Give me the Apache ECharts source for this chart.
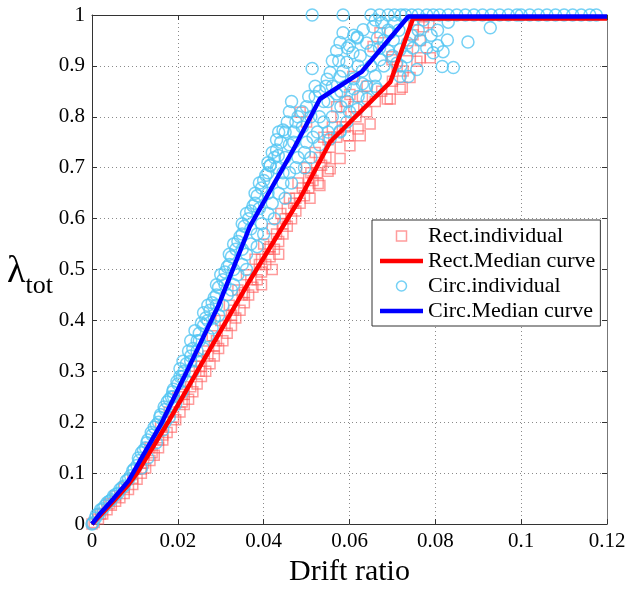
<!DOCTYPE html>
<html>
<head>
<meta charset="utf-8">
<script src="https://cdn.jsdelivr.net/npm/echarts@6/dist/echarts.min.js"></script>
<style>html,body{margin:0;padding:0;background:#fff;}#c{width:629px;height:592px;}</style>
</head>
<body>
<div id="c"></div>
<script>
// ---- data ----
const xTicks = [0, 0.02, 0.04, 0.06, 0.08, 0.1, 0.12];
const yTicks = [0, 0.1, 0.2, 0.3, 0.4, 0.5, 0.6, 0.7, 0.8, 0.9, 1];
const seriesNames = ['Rect.individual', 'Rect.Median curve', 'Circ.individual', 'Circ.Median curve'];

const rectMedian = [[0,0],[0.002,0.018],[0.005,0.045],[0.0085,0.078],[0.0105,0.1],[0.0177,0.2],[0.0245,0.3],[0.0368,0.479],[0.0485,0.64],[0.0555,0.751],[0.0695,0.868],[0.0748,0.993],[0.12,0.993]];
const circMedian = [[0,0],[0.002,0.022],[0.005,0.05],[0.0085,0.085],[0.0163,0.2],[0.0221,0.3],[0.0295,0.43],[0.0368,0.585],[0.047,0.737],[0.0531,0.835],[0.0629,0.889],[0.0737,0.997],[0.12,0.997]];

const rectPoints = [
[0,0],[0.0005,0.003],[0.0015,0.01],[0.0025,0.02],[0.0035,0.028],[0.0045,0.037],[0.0055,0.045],[0.0065,0.052],[0.0075,0.06],[0.0085,0.068],[0.0095,0.078],[0.0105,0.088],[0.0115,0.1],[0.0125,0.11],[0.0135,0.125],[0.0145,0.135],[0.0155,0.15],[0.0165,0.165],[0.0175,0.18],[0.0185,0.19],[0.0195,0.205],[0.0205,0.22],[0.0215,0.235],[0.0225,0.245],[0.0235,0.26],[0.0245,0.275],[0.0255,0.29],[0.0265,0.3],[0.0275,0.315],[0.0285,0.33],[0.0295,0.345],[0.0305,0.36],[0.0315,0.375],[0.0325,0.39],[0.0335,0.405],[0.0345,0.42],[0.0355,0.435],[0.0365,0.45],[0.0375,0.465],[0.0385,0.48],[0.0395,0.495],[0.0405,0.51],[0.0415,0.525],[0.0425,0.54],[0.0435,0.555],[0.0445,0.57],[0.0455,0.585],[0.0465,0.6],[0.0475,0.615],[0.0485,0.63],[0.0495,0.645],[0.0508,0.64],[0.0505,0.66],[0.0515,0.675],[0.0531,0.665],[0.0527,0.669],[0.0525,0.69],[0.055,0.693],[0.0555,0.698],[0.0535,0.705],[0.0545,0.72],[0.0578,0.718],[0.0555,0.74],[0.0601,0.743],[0.0597,0.763],[0.0625,0.763],[0.062,0.776],[0.0648,0.786],[0.0688,0.835],[0.0695,0.835],[0.0601,0.844],[0.0641,0.86],[0.0718,0.854],[0.0723,0.858],[0.0608,0.879],[0.0741,0.877],[0.0711,0.899],[0.0757,0.909],[0.0699,0.912],[0.0699,0.918],[0.0765,0.916],[0.0788,0.916],[0.0655,0.938],[0.0748,0.961],[0.0671,0.965],[0.0772,0.977],[0.0485,0.809],
[0.016,0.19],[0.018,0.22],[0.02,0.25],[0.022,0.28],[0.024,0.31],[0.026,0.34],[0.028,0.37],[0.03,0.4],[0.032,0.43],[0.034,0.46],[0.036,0.49],[0.038,0.52],[0.04,0.55],[0.042,0.58],[0.044,0.61],[0.046,0.64],[0.048,0.67],[0.05,0.7],[0.052,0.73],[0.054,0.76],[0.056,0.78],[0.058,0.8],[0.057,0.82],[0.059,0.83],[0.061,0.82],[0.063,0.84],[0.05,0.79],
[0.0165,0.175],[0.019,0.21],[0.021,0.24],[0.023,0.27],[0.025,0.3],[0.027,0.33],[0.029,0.36],[0.031,0.39],[0.033,0.42],[0.035,0.45],[0.037,0.48],[0.039,0.51],[0.041,0.54],[0.043,0.57],[0.045,0.6],[0.047,0.63],[0.049,0.66],[0.051,0.69],[0.053,0.72],[0.055,0.755],[0.057,0.76],[0.059,0.78],[0.0615,0.8],[0.064,0.81],[0.066,0.83],[0.0675,0.85],[0.07,0.87],[0.0725,0.89],[0.0735,0.93],[0.0765,0.95],[0.0785,0.985],[0.075,0.99],
[0.0215,0.255],[0.0255,0.31],[0.0285,0.35],[0.0325,0.41],[0.0355,0.455],[0.0395,0.52],[0.0415,0.545],[0.0445,0.59],[0.0475,0.64],[0.0505,0.68],[0.0455,0.62],[0.0395,0.47],[0.042,0.5],[0.0435,0.53],
[0.012,0.12],[0.014,0.14],[0.0135,0.15],[0.0155,0.165],[0.0115,0.108],[0.0095,0.09],[0.0075,0.072],[0.0055,0.055],[0.004,0.04],[0.002,0.02]
];

const circPoints = [
[0,0],[0.0002,0.002],[0.0008,0.012],[0.0015,0.02],[0.002,0.028],[0.003,0.036],[0.0035,0.042],[0.0045,0.048],[0.005,0.055],[0.006,0.06],[0.0065,0.068],[0.0075,0.075],[0.008,0.085],[0.009,0.095],[0.0095,0.105],[0.0105,0.115],[0.011,0.125],[0.0115,0.14],[0.0125,0.15],[0.013,0.165],[0.014,0.175],[0.0145,0.19],[0.0155,0.2],[0.016,0.215],[0.017,0.225],[0.0175,0.24],[0.0185,0.25],[0.019,0.265],[0.02,0.275],[0.0205,0.29],[0.0215,0.3],[0.022,0.315],[0.023,0.33],[0.0235,0.345],[0.0245,0.36],[0.025,0.375],[0.026,0.39],[0.0265,0.405],[0.0275,0.42],[0.028,0.435],[0.029,0.45],[0.0295,0.465],[0.0305,0.48],[0.031,0.495],[0.032,0.51],[0.0325,0.525],[0.0335,0.54],[0.034,0.555],[0.035,0.57],[0.0355,0.585],[0.0365,0.6],[0.037,0.615],[0.038,0.63],[0.0385,0.645],[0.0395,0.66],[0.04,0.675],[0.041,0.69],[0.0415,0.705],[0.0425,0.72],[0.043,0.735],[0.044,0.75],[0.0445,0.774],[0.0455,0.79],[0.046,0.81],
[0.0115,0.11],[0.013,0.13],[0.015,0.16],[0.0165,0.185],[0.018,0.21],[0.0195,0.235],[0.021,0.26],[0.022,0.28],[0.0235,0.3],[0.0245,0.32],[0.026,0.345],[0.027,0.37],[0.028,0.385],[0.0295,0.41],[0.0305,0.43],[0.0315,0.45],[0.033,0.47],[0.034,0.49],[0.035,0.51],[0.036,0.53],[0.037,0.55],[0.0385,0.57],[0.0395,0.59],[0.041,0.61],[0.042,0.63],[0.0435,0.65],[0.0445,0.67],[0.046,0.69],[0.0475,0.7],[0.048,0.72],[0.0495,0.73],[0.05,0.75],[0.0515,0.76],[0.0525,0.77],[0.0555,0.757],[0.0578,0.77],[0.054,0.79],[0.056,0.8],
[0.017,0.2],[0.019,0.25],[0.021,0.29],[0.023,0.32],[0.025,0.36],[0.027,0.4],[0.029,0.43],[0.031,0.47],[0.033,0.5],[0.035,0.54],[0.037,0.58],[0.039,0.62],[0.041,0.65],[0.043,0.7],[0.045,0.72],[0.047,0.75],[0.049,0.78],[0.048,0.8],[0.05,0.82],[0.052,0.84],[0.0434,0.724],[0.0415,0.704],[0.0445,0.69],
[0.0513,0.895],[0.0548,0.874],[0.0555,0.887],[0.0578,0.879],[0.0594,0.907],[0.0608,0.926],[0.0618,0.957],[0.0632,0.971],[0.0655,0.977],[0.0671,0.912],[0.0702,0.951],[0.0718,0.932],[0.0734,0.918],[0.0737,0.879],[0.0757,0.893],[0.0765,0.951],[0.0772,0.99],[0.0795,0.926],[0.0816,0.899],[0.0818,0.928],[0.0828,0.951],[0.0842,0.897],[0.083,0.986],[0.0876,0.947],[0.0928,0.975],[0.0585,0.965],
[0.053,0.85],[0.055,0.83],[0.057,0.845],[0.059,0.86],[0.061,0.875],[0.063,0.89],[0.058,0.82],[0.06,0.81],[0.062,0.84],[0.064,0.86],[0.066,0.88],[0.065,0.93],[0.068,0.95],[0.069,0.97],[0.0705,0.985],[0.0715,0.97],[0.057,0.93],[0.056,0.91],[0.06,0.94],[0.062,0.9],[0.064,0.945],[0.067,0.935],[0.07,0.92],[0.072,0.9],[0.0748,0.935],[0.076,0.97],[0.079,0.96],[0.0805,0.94],
[0.066,0.86],[0.0664,0.854],[0.0718,0.879],[0.0641,0.835],[0.0618,0.815],[0.0594,0.79],[0.0578,0.772],[0.0578,0.946],[0.0618,0.955],
[0.001,0.018],[0.0025,0.03],[0.004,0.045],[0.0055,0.058],[0.007,0.072],[0.0085,0.088],[0.0098,0.108],[0.0108,0.13],[0.012,0.145],[0.0128,0.16],[0.0138,0.18],[0.015,0.195],[0.0158,0.21],[0.0168,0.23],[0.018,0.245],[0.0188,0.26],[0.0198,0.28],[0.0205,0.305],[0.0212,0.32],[0.0225,0.34],[0.023,0.36],[0.024,0.38],[0.0255,0.395],[0.026,0.415],[0.027,0.43],[0.0285,0.445],[0.029,0.47],[0.03,0.49],[0.0315,0.505],[0.032,0.53],[0.033,0.55],[0.0345,0.565],[0.035,0.59],[0.036,0.61],[0.0375,0.625],[0.038,0.65],[0.039,0.67],[0.0405,0.685],[0.041,0.71],[0.042,0.73],[0.043,0.755],[0.0435,0.77],[0.045,0.77],[0.046,0.745],[0.047,0.77],[0.0475,0.79],[0.0465,0.83],[0.049,0.81],[0.051,0.8],[0.0505,0.84],[0.052,0.86],[0.053,0.8],[0.054,0.83],[0.0545,0.86],[0.056,0.86],[0.058,0.85],[0.0595,0.83],[0.061,0.855],[0.063,0.865],[0.065,0.9],[0.0625,0.92],[0.0585,0.89],[0.0575,0.91],[0.0595,0.935],[0.061,0.96],[0.0665,0.955],[0.069,0.93],[0.071,0.905],[0.068,0.9],[0.0735,0.945],[0.0745,0.96],[0.078,0.935],[0.0805,0.97],[0.0695,0.965],[0.066,0.99],[0.0675,0.985],
[0.0245,0.34],[0.0285,0.405],[0.0325,0.46],[0.036,0.5],[0.0385,0.545],[0.04,0.57],[0.0425,0.6],[0.045,0.64],[0.0465,0.67],[0.0495,0.7],[0.051,0.72],[0.053,0.745],[0.055,0.77],
[0.0513,1],[0.0585,1],[0.065,1],[0.067,1],[0.069,1],[0.0705,1],[0.072,1],[0.073,1],[0.0745,1],[0.076,1],[0.078,1],[0.0795,1],[0.081,1],[0.083,1],[0.085,1],[0.087,1],[0.089,1],[0.091,1],[0.093,1],[0.095,1],[0.097,1],[0.099,1],[0.1,1],[0.102,1],[0.104,1],[0.106,1],[0.108,1],[0.11,1],[0.112,1],[0.114,1],[0.116,1],[0.1175,1]
];

// ---- chart ----
const FONT = 'Liberation Serif';
const rectColor = 'rgba(255,90,90,0.75)';
const circColor = '#52c5f2';
const gridLine = { show: true, lineStyle: { color: '#8a8a8a', type: [1, 3], width: 1 } };
const axisLine = { show: true, onZero: false, lineStyle: { color: '#333', width: 1 } };
const fmt = v => String(+v.toFixed(4));

const chart = echarts.init(document.getElementById('c'), null, { renderer: 'canvas' });
chart.setOption({
  backgroundColor: '#fff',
  animation: false,
  grid: { left: 92, right: 22, top: 15, bottom: 63 },
  xAxis: [{
    type: 'value', min: xTicks[0], max: xTicks[xTicks.length - 1], interval: 0.02,
    name: 'Drift ratio', nameLocation: 'middle', nameGap: 32,
    nameTextStyle: { fontFamily: FONT, fontSize: 30, color: '#000', verticalAlign: 'top' },
    axisLine: axisLine, axisTick: { inside: true, length: 5, lineStyle: { color: '#333' } },
    axisLabel: { fontFamily: FONT, fontSize: 21, color: '#000', margin: 7, formatter: fmt },
    splitLine: gridLine
  }, {
    type: 'value', position: 'top', min: xTicks[0], max: xTicks[xTicks.length - 1], interval: 0.02,
    axisLine: axisLine, axisTick: { inside: true, length: 5, lineStyle: { color: '#333' } },
    axisLabel: { show: false }, splitLine: { show: false }
  }],
  yAxis: [{
    type: 'value', min: yTicks[0], max: yTicks[yTicks.length - 1], interval: 0.1,
    name: '{l|λ}{s|tot}', nameLocation: 'middle', nameRotate: 0, nameGap: 26,
    nameTextStyle: {
      align: 'right',
      rich: {
        l: { fontFamily: FONT, fontSize: 38, color: '#000', verticalAlign: 'bottom', lineHeight: 42 },
        s: { fontFamily: FONT, fontSize: 26, color: '#000', verticalAlign: 'bottom', padding: [0, 0, -9, 0] }
      }
    },
    axisLine: axisLine, axisTick: { inside: true, length: 5, lineStyle: { color: '#333' } },
    axisLabel: { fontFamily: FONT, fontSize: 21, color: '#000', margin: 7, formatter: fmt },
    splitLine: gridLine
  }, {
    type: 'value', position: 'right', min: yTicks[0], max: yTicks[yTicks.length - 1], interval: 0.1,
    axisLine: { show: true, onZero: false, lineStyle: { color: '#777', width: 1 } },
    axisTick: { inside: true, length: 5, lineStyle: { color: '#333' } },
    axisLabel: { show: false }, splitLine: { show: false }
  }],
  legend: {
    orient: 'vertical', left: 372, top: 220,
    padding: [5, 5, 4, 8], itemGap: 3, itemWidth: 43, itemHeight: 10,
    backgroundColor: '#fff', borderColor: '#333', borderWidth: 1, borderRadius: 0,
    textStyle: { fontFamily: FONT, fontSize: 22, color: '#000', lineHeight: 22 },
    data: [
      { name: seriesNames[0], icon: 'path://M0,0H10V10H0Z', itemStyle: { color: 'transparent', borderColor: rectColor, borderWidth: 1.5 } },
      { name: seriesNames[1], icon: 'path://M0,0H43V4.5H0Z', itemStyle: { color: '#ff0000', borderWidth: 0 } },
      { name: seriesNames[2], icon: 'circle', itemStyle: { color: 'transparent', borderColor: circColor, borderWidth: 1.5 } },
      { name: seriesNames[3], icon: 'path://M0,0H43V4.5H0Z', itemStyle: { color: '#0000ff', borderWidth: 0 } }
    ]
  },
  series: [
    {
      name: seriesNames[0], type: 'scatter', data: rectPoints, symbol: 'rect', symbolSize: 10, z: 2,
      itemStyle: { color: 'transparent', borderColor: rectColor, borderWidth: 1.5 }
    },
    {
      name: seriesNames[1], type: 'line', data: rectMedian, showSymbol: false, symbol: 'none', z: 4,
      lineStyle: { color: '#ff0000', width: 4.5 }, itemStyle: { color: '#ff0000' }
    },
    {
      name: seriesNames[2], type: 'scatter', data: circPoints, symbol: 'circle', symbolSize: 12, z: 3,
      itemStyle: { color: 'transparent', borderColor: circColor, borderWidth: 1.5 }
    },
    {
      name: seriesNames[3], type: 'line', data: circMedian, showSymbol: false, symbol: 'none', z: 5,
      lineStyle: { color: '#0000ff', width: 4.5 }, itemStyle: { color: '#0000ff' }
    }
  ]
});
</script>
</body>
</html>
